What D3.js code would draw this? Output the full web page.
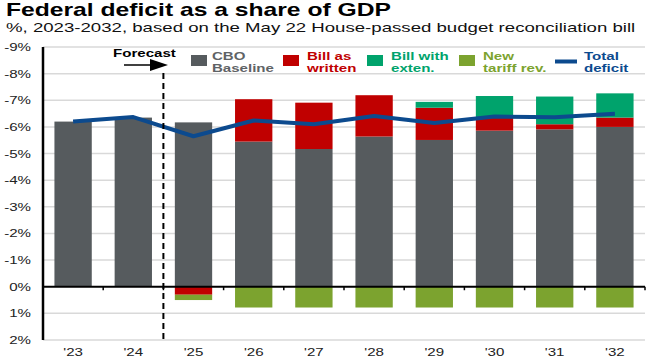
<!DOCTYPE html>
<html>
<head>
<meta charset="utf-8">
<script src="https://cdn.jsdelivr.net/npm/d3@7"></script>
<style>
  html, body { margin: 0; padding: 0; background: #fff; }
  svg { display: block; font-family: "Liberation Sans", Arial, sans-serif; }
</style>
</head>
<body>
<svg id="chart" width="653" height="360"></svg>
<script>
// data, deficit in % of GDP (positive = adds to deficit)
var years = ["'23", "'24", "'25", "'26", "'27", "'28", "'29", "'30", "'31", "'32"];
var cboBaseline = [6.2, 6.35, 6.17, 5.45, 5.17, 5.64, 5.51, 5.86, 5.91, 6.0];
var billAsWritten = [0, 0, -0.3, 1.59, 1.74, 1.55, 1.21, 0.5, 0.19, 0.35];
var billWithExten = [0, 0, 0, 0, 0, 0, 0.22, 0.8, 1.04, 0.91];
var tariffRev = [0, 0, -0.2, -0.78, -0.78, -0.78, -0.78, -0.78, -0.78, -0.78];
var totalDeficit = [6.2, 6.37, 5.65, 6.24, 6.1, 6.41, 6.15, 6.39, 6.36, 6.49];
var yTicks = [-2, -1, 0, 1, 2, 3, 4, 5, 6, 7, 8, 9];
var forecastStart = "'25";

var keys = ["cbo", "bill", "ext", "tariff"];
var colors = { cbo: "#565b5e", bill: "#c00000", ext: "#00a36c", tariff: "#7ca32f" };
var lineColor = "#0c4a8e";
var SX = 1.37; // horizontal text stretch of the original

var svg = d3.select("#chart");
var plotLeft = 43, plotRight = 645, plotTop = 47, plotBottom = 340;

var x = d3.scaleBand().domain(years).range([plotLeft, plotRight]).paddingInner(0.38).paddingOuter(0.19);
var y = d3.scaleLinear().domain([-2, 9]).range([plotBottom, plotTop]);

function txt(g, tx, ty, s, size, opts) {
  opts = opts || {};
  return g.append("text")
    .attr("x", tx / SX).attr("y", ty)
    .attr("transform", "scale(" + SX + ",1)")
    .attr("font-size", size)
    .attr("font-weight", opts.bold ? "bold" : "normal")
    .attr("fill", opts.fill || "#000")
    .attr("text-anchor", opts.anchor || "start")
    .text(s);
}

// titles
txt(svg, 6, 16, "Federal deficit as a share of GDP", 18, { bold: true });
txt(svg, 6, 32, "%, 2023-2032, based on the May 22 House-passed budget reconciliation bill", 13.6, { fill: "#111" });

// gridlines
svg.append("g").selectAll("line").data(yTicks.filter(function(d) { return d !== 0; }))
  .join("line")
  .attr("x1", plotLeft).attr("x2", plotRight)
  .attr("y1", function(d) { return y(d); }).attr("y2", function(d) { return y(d); })
  .attr("stroke", "#d9d9d9").attr("stroke-width", 1.5);

// y labels
var yl = svg.append("g");
yTicks.forEach(function(d) {
  var lab = d === 0 ? "0%" : (-d) + "%";
  txt(yl, 31, y(d) + 4, lab, 11, { anchor: "end", fill: "#222" });
});

// stacked bars
var rows = years.map(function(yr, i) {
  return { year: yr, cbo: cboBaseline[i], bill: billAsWritten[i], ext: billWithExten[i], tariff: tariffRev[i] };
});
var series = d3.stack().keys(keys).offset(d3.stackOffsetDiverging)(rows);

svg.append("g").selectAll("g").data(series).join("g")
  .attr("fill", function(s) { return colors[s.key]; })
  .selectAll("rect").data(function(s) { return s; }).join("rect")
  .attr("x", function(d) { return x(d.data.year); })
  .attr("width", x.bandwidth())
  .attr("y", function(d) { return y(Math.max(d[0], d[1])); })
  .attr("height", function(d) { return Math.abs(y(d[0]) - y(d[1])); });

// total deficit line
var line = d3.line()
  .x(function(d, i) { return x(years[i]) + x.bandwidth() / 2; })
  .y(function(d) { return y(d); });
svg.append("path").datum(totalDeficit)
  .attr("d", line).attr("fill", "none")
  .attr("stroke", lineColor).attr("stroke-width", 4)
  .attr("stroke-linejoin", "round");

// axes
var bounds = years.map(function(yr) { return x(yr) - x.step() * x.paddingOuter(); });
bounds.push(plotRight);
svg.append("line").attr("x1", plotLeft).attr("x2", plotRight).attr("y1", y(0)).attr("y2", y(0))
  .attr("stroke", "#000").attr("stroke-width", 2);
svg.append("g").selectAll("line").data(bounds.slice(1)).join("line")
  .attr("x1", function(d) { return d; }).attr("x2", function(d) { return d; })
  .attr("y1", y(0)).attr("y2", y(0) + 3.5)
  .attr("stroke", "#000").attr("stroke-width", 1.5);
svg.append("line").attr("x1", plotLeft).attr("x2", plotLeft).attr("y1", plotTop).attr("y2", plotBottom)
  .attr("stroke", "#000").attr("stroke-width", 2.5);

// x labels
var xl = svg.append("g");
years.forEach(function(yr) {
  txt(xl, x(yr) + x.bandwidth() / 2, 356, yr, 11, { anchor: "middle", fill: "#222" });
});

// forecast marker
var fx = x(forecastStart) - x.step() * x.paddingOuter();
svg.append("line").attr("x1", fx).attr("x2", fx).attr("y1", 73).attr("y2", plotBottom)
  .attr("stroke", "#000").attr("stroke-width", 2).attr("stroke-dasharray", "6,4");
txt(svg, 113, 57, "Forecast", 11, { bold: true });
svg.append("line").attr("x1", 124).attr("x2", 152).attr("y1", 65).attr("y2", 65)
  .attr("stroke", "#000").attr("stroke-width", 1.5);
svg.append("path").attr("d", "M150,59 L168,65 L150,71 Z").attr("fill", "#000");

// legend
var legend = [
  { key: "cbo", sx: 191, tx: 212, l1: "CBO", l2: "Baseline", fill: "#5f6366" },
  { key: "bill", sx: 283, tx: 307, l1: "Bill as", l2: "written", fill: "#c00000" },
  { key: "ext", sx: 367, tx: 391, l1: "Bill with", l2: "exten.", fill: "#00a36c" },
  { key: "tariff", sx: 459, tx: 483, l1: "New", l2: "tariff rev.", fill: "#7ca32f" }
];
var lg = svg.append("g");
legend.forEach(function(d) {
  lg.append("rect").attr("x", d.sx).attr("y", 55).attr("width", 16).attr("height", 11).attr("fill", colors[d.key]);
  txt(lg, d.tx, 60, d.l1, 11, { bold: true, fill: d.fill });
  txt(lg, d.tx, 72, d.l2, 11, { bold: true, fill: d.fill });
});
lg.append("line").attr("x1", 555).attr("x2", 577).attr("y1", 61.5).attr("y2", 61.5)
  .attr("stroke", lineColor).attr("stroke-width", 4);
txt(lg, 584, 60, "Total", 11, { bold: true, fill: lineColor });
txt(lg, 584, 72, "deficit", 11, { bold: true, fill: lineColor });
</script>
</body>
</html>
